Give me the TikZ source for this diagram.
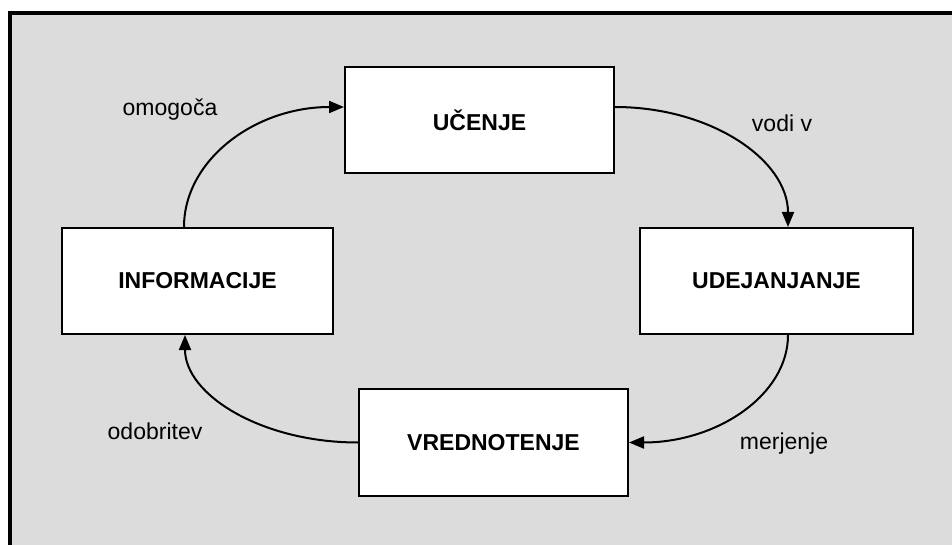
\documentclass[tikz,border=0pt]{standalone}
\usepackage{fontspec}
\setmainfont{Liberation Sans}
\usetikzlibrary{shapes,arrows.meta,positioning}
\definecolor{panelgray}{RGB}{220,220,220}

\begin{document}
\begin{tikzpicture}[x=1pt,y=-1pt,
	font=\fontsize{23}{28}\selectfont,
	box/.style={shape=rectangle,draw,line width=2pt,fill=white,minimum height=106pt,font=\fontsize{23}{28}\selectfont\bfseries},
	flow/.style={line width=2pt,-{Triangle[length=15pt,width=12pt]}}]
	\useasboundingbox (0,0) rectangle (952,545);
	\fill[white] (0,0) rectangle (952,545);
	\begin{scope}
		\clip (0,0) rectangle (952,545);
		\draw[line width=4pt,fill=panelgray] (10,13) rectangle (980,580);
	\end{scope}

	\node[box,minimum width=269pt] (ucenje) at (479.5,120) {UČENJE};
	\node[box,minimum width=271pt] (info) at (197.5,281) {INFORMACIJE};
	\node[box,minimum width=273pt] (udej) at (776.5,281) {UDEJANJANJE};
	\node[box,minimum width=269pt,minimum height=107pt] (vred) at (493.5,442.5) {VREDNOTENJE};

	\node (omogoca) at (170,110) {omogoča};
	\node (vodi) at (782,123) {vodi v};
	\node (merjenje) at (784,444) {merjenje};
	\node (odobritev) at (155,431) {odobritev};

	\draw[flow] ([xshift=-13.5pt]info.north) .. controls +(0,-67) and +(-89,0) .. ([yshift=13pt]ucenje.west);
	\draw[flow] ([yshift=13pt]ucenje.east) .. controls +(96,0) and +(0,-67) .. ([xshift=11.5pt]udej.north);
	\draw[flow] ([xshift=11.5pt]udej.south) .. controls +(0,60) and +(88,0) .. (vred.east);
	\draw[flow] (vred.west) .. controls +(-96,0) and +(0,60) .. ([xshift=-12.5pt]info.south);
\end{tikzpicture}
\end{document}
